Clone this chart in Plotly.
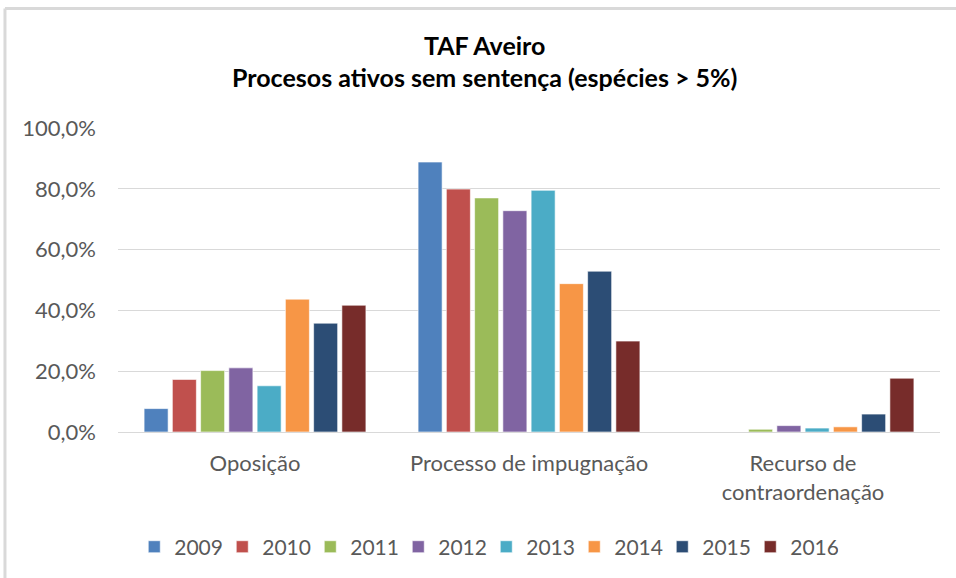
import plotly.graph_objects as go

categories = ["Oposição", "Processo de impugnação", "Recurso de<br>contraordenação"]
years = ["2009", "2010", "2011", "2012", "2013", "2014", "2015", "2016"]
v2009 = [0.077, 0.888, 0.0]
v2010 = [0.173, 0.799, 0.0]
v2011 = [0.202, 0.770, 0.009]
v2012 = [0.211, 0.728, 0.021]
v2013 = [0.152, 0.795, 0.013]
v2014 = [0.437, 0.488, 0.017]
v2015 = [0.358, 0.529, 0.059]
v2016 = [0.417, 0.299, 0.177]
series = [v2009, v2010, v2011, v2012, v2013, v2014, v2015, v2016]
colors = ["#4F81BD", "#C0504D", "#9BBB59", "#8064A2", "#4BACC6", "#F79646", "#2C4D75", "#772C2A"]
y_ticks = [0, 0.2, 0.4, 0.6, 0.8, 1.0]
y_tick_labels = ["0,0%", "20,0%", "40,0%", "60,0%", "80,0%", "100,0%"]

FONT = "Lato, Carlito, Calibri, sans-serif"

fig = go.Figure()
for yr, vals, c in zip(years, series, colors):
    fig.add_trace(go.Bar(
        name=yr, x=categories, y=vals,
        marker=dict(color=c, line=dict(color="rgba(255,255,255,0.6)", width=1)),
    ))

fig.update_layout(
    width=956, height=578,
    barmode="group", bargap=0.175, bargroupgap=0.15,
    paper_bgcolor="white", plot_bgcolor="white",
    margin=dict(l=118, r=16, t=128, b=145),
    font=dict(family=FONT, size=21, color="#595959"),
    title=dict(
        text="<b>TAF Aveiro</b><br><b>Procesos ativos sem sentença (espécies > 5%)</b>",
        x=0.507, xanchor="center", y=0.905, yanchor="top",
        font=dict(family=FONT, size=25, color="#000000"),
    ),
    xaxis=dict(showline=True, linecolor="#D9D9D9", linewidth=1, ticks="",
               tickfont=dict(size=22, color="#595959"), ticklabelstandoff=12),
    yaxis=dict(range=[0, 1.0], tickvals=y_ticks, ticktext=y_tick_labels,
               showgrid=True, gridcolor="#D9D9D9", gridwidth=1, zeroline=False,
               ticks="", ticklen=0, tickfont=dict(size=22, color="#595959"),
               ticklabelstandoff=21),
    legend=dict(orientation="h", x=0.448, xanchor="center", y=-0.374, yanchor="middle",
                font=dict(size=21, color="#595959"), traceorder="normal",
                entrywidth=43, itemwidth=30),
    shapes=[
        dict(type="line", xref="paper", yref="paper", x0=-0.1375, x1=-0.1375, y0=-0.5, y1=1.393,
             line=dict(color="#D9D9D9", width=3)),
        dict(type="line", xref="paper", yref="paper", x0=-0.1375, x1=1.1, y0=1.393, y1=1.393,
             line=dict(color="#D9D9D9", width=3)),
    ],
)

fig.write_html("out.html", config={"displayModeBar": False},
               post_script="document.body.style.margin='0px';")
